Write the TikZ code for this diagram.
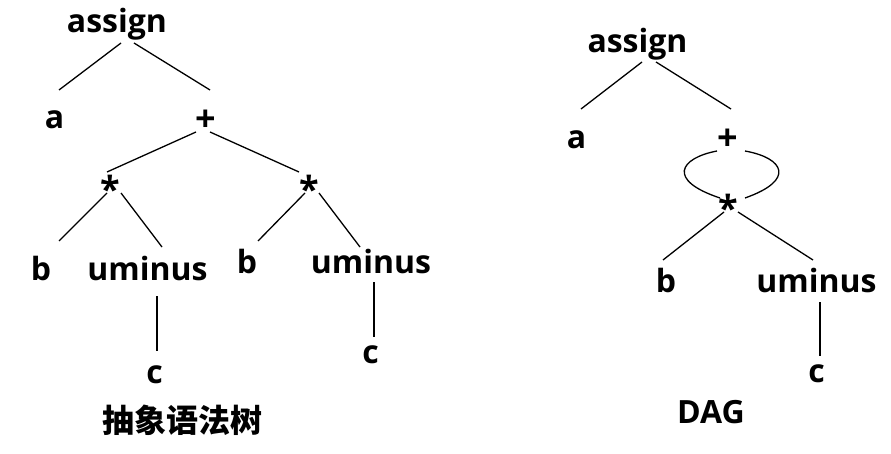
\documentclass[tikz,border=0pt]{standalone}
\usepackage{fontspec}
\setmainfont{Open Sans}
\newfontfamily\cjk{Noto Sans CJK SC}
\begin{document}
\begin{tikzpicture}[x=1pt,y=-1pt,
  lab/.style={anchor=base,inner sep=0pt,font=\fontsize{32}{32}\selectfont\bfseries},
  op/.style={anchor=base,inner sep=0pt,font=\fontsize{36}{36}\selectfont\bfseries},
  edge/.style={line width=1.3pt}]
\useasboundingbox (0,0) rectangle (891,454);
% left tree
\node[lab] (assignL) at (117,33) {assign};
\node[lab] (aL) at (54.5,129) {a};
\node[op] (plusL) at (206,132) {+};
\node[op] (star1) at (110,203) {*};
\node[op] (star2) at (309,203) {*};
\node[lab] (b1) at (41,280) {b};
\node[lab] (um1) at (147.5,280) {uminus};
\node[lab] (c1) at (154.5,383) {c};
\node[lab] (b2) at (247,273) {b};
\node[lab] (um2) at (371,273) {uminus};
\node[lab] (c2) at (370.5,363) {c};
\node[anchor=center,inner sep=0pt,font=\cjk\fontsize{32}{32}\selectfont\bfseries] (titleL) at (182,420) {抽象语法树};
\draw[edge] ([shift={(4,10)}]assignL.base) -- ([shift={(4.5,-39)}]aL.base);
\draw[edge] ([shift={(17,10)}]assignL.base) -- ([shift={(4,-42)}]plusL.base);
\draw[edge] ([shift={(-10,0)}]plusL.base) -- ([shift={(-3,-31)}]star1.base);
\draw[edge] ([shift={(4,0)}]plusL.base) -- ([shift={(-10,-31)}]star2.base);
\draw[edge] ([shift={(-3,-10)}]star1.base) -- ([shift={(18,-39)}]b1.base);
\draw[edge] ([shift={(11,-10)}]star1.base) -- ([shift={(14.5,-33)}]um1.base);
\draw[edge] ([shift={(-4,-10)}]star2.base) -- ([shift={(11,-32)}]b2.base);
\draw[edge] ([shift={(10,-10)}]star2.base) -- ([shift={(-11,-26)}]um2.base);
\draw[edge] ([shift={(9.5,16)}]um1.base) -- ([shift={(2.5,-32)}]c1.base);
\draw[edge] ([shift={(3,9)}]um2.base) -- ([shift={(3.5,-26)}]c2.base);
% right DAG
\node[lab] (assignR) at (637.5,53) {assign};
\node[lab] (aR) at (576.5,149) {a};
\node[op] (plusR) at (727.5,151) {+};
\node[op] (starR) at (728,222) {*};
\node[lab] (bR) at (666,292) {b};
\node[lab] (umR) at (816.5,292) {uminus};
\node[lab] (cR) at (816.5,382) {c};
\node[lab] (dag) at (711,423) {DAG};
\draw[edge] ([shift={(4.5,9)}]assignR.base) -- ([shift={(4.5,-40)}]aR.base);
\draw[edge] ([shift={(18.5,9)}]assignR.base) -- ([shift={(3.5,-42)}]plusR.base);
\draw[edge] ([shift={(-10.5,0)}]plusR.base) .. controls +(-37,7) and +(-54,-18) .. ([shift={(-8,-24)}]starR.base);
\draw[edge] ([shift={(17.5,0)}]plusR.base) .. controls +(39,7) and +(51,-18) .. ([shift={(17,-24)}]starR.base);
\draw[edge] ([shift={(-4,-10)}]starR.base) -- ([shift={(-3,-32)}]bR.base);
\draw[edge] ([shift={(10,-10)}]starR.base) -- ([shift={(-3.5,-32)}]umR.base);
\draw[edge] ([shift={(3.5,10)}]umR.base) -- ([shift={(3.5,-26)}]cR.base);
\end{tikzpicture}
\end{document}
